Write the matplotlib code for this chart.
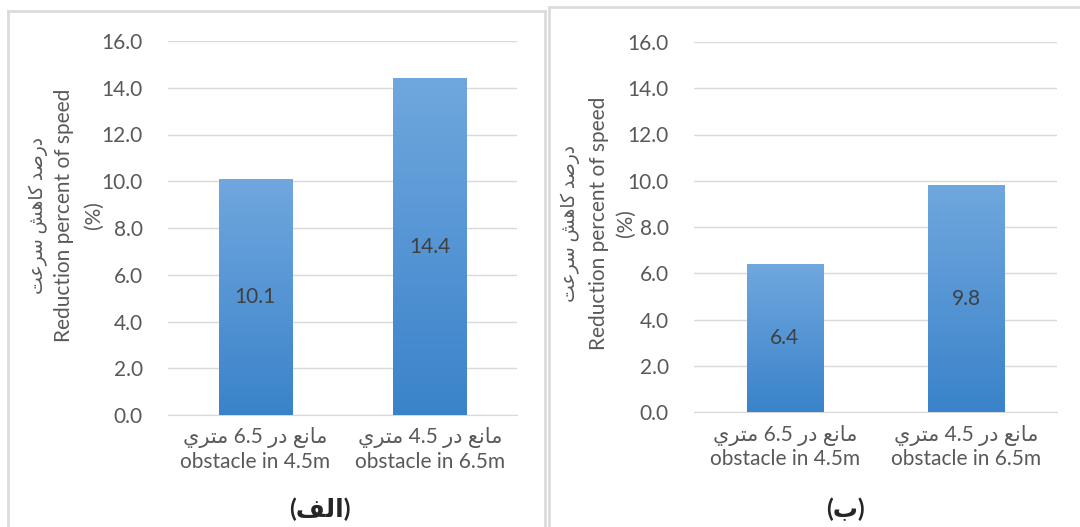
import matplotlib
matplotlib.use('Agg')
import matplotlib.pyplot as plt
import numpy as np
from matplotlib.lines import Line2D

plt.rcParams['font.family'] = ['Lato', 'DejaVu Sans']

# Arabic/Persian strings written in presentation forms, visual (left-to-right) order
fa_ylabel = '\uFE96\uFECB\uFEAE\uFEB3 \uFEB6\uFEEB\uFE8E\uFEDB \uFEAA\uFEBB\uFEAD\uFEA9'
fa_cat_45 = '\uFEF1\uFEAE\uFE98\uFEE3 6.5 \uFEAD\uFEA9 \uFECA\uFEE7\uFE8E\uFEE3'
fa_cat_65 = '\uFEF1\uFEAE\uFE98\uFEE3 4.5 \uFEAD\uFEA9 \uFECA\uFEE7\uFE8E\uFEE3'
caption_a = '(\uFED2\uFEDF\uFE8D)'
caption_b = '(\uFE8F)'

categories = ['obstacle in 4.5m', 'obstacle in 6.5m']
cat_fa = [fa_cat_45, fa_cat_65]
values_a = [10.1, 14.4]
values_b = [6.4, 9.8]
yticks = [0, 2, 4, 6, 8, 10, 12, 14, 16]

W, H = 1080, 527
fig = plt.figure(figsize=(W / 100, H / 100), dpi=100)

TXT = '#595959'
GRID = '#d9d9d9'
TOP_C = np.array([0x70, 0xa7, 0xde]) / 255
BOT_C = np.array([0x3a, 0x83, 0xca]) / 255
grad = np.linspace(0, 1, 256)[:, None, None]
grad_img = BOT_C * (1 - grad) + TOP_C * grad   # row 0 = bottom (origin lower)


def px(x0, y0, x1, y1):
    # pixel box (top-left origin) -> figure fraction rect
    return [x0 / W, 1 - y1 / H, (x1 - x0) / W, (y1 - y0) / H]


def draw_panel(rect, values, cx_caption, cap_text, ylab_x, ylab_y):
    ax = fig.add_axes(rect)
    x = np.arange(len(values))
    bars = ax.bar(x, values, width=0.42, color='none', zorder=3)
    for b in bars:
        x0, y0 = b.get_x(), b.get_y()
        im = ax.imshow(grad_img, origin='lower', aspect='auto', zorder=3,
                       extent=[x0, x0 + b.get_width(), y0, y0 + b.get_height()])
        im.set_clip_path(b)
        ax.text(b.get_x() + b.get_width() / 2, b.get_height() / 2,
                f'{b.get_height():.1f}', ha='center', va='center',
                fontsize=15, color='#404040', zorder=4)
    ax.set_xlim(-0.5, len(values) - 0.5)
    ax.set_ylim(0, 16)
    ax.set_yticks(yticks)
    ax.set_yticklabels([f'{t:.1f}' for t in yticks])
    ax.yaxis.grid(True, color=GRID, lw=1, zorder=0)
    ax.set_axisbelow(True)
    for s in ['top', 'right', 'left']:
        ax.spines[s].set_visible(False)
    ax.spines['bottom'].set_color(GRID)
    ax.tick_params(axis='y', length=0, pad=18, labelsize=15, labelcolor=TXT)
    ax.tick_params(axis='x', length=0, pad=9, labelsize=15, labelcolor=TXT)
    ax.set_xticks(x)
    ax.set_xticklabels([f'{a}\n{e}' for a, e in zip(cat_fa, categories)],
                       linespacing=1.2)

    # rotated y title, three lines
    fig.text(ylab_x[0] / W, 1 - ylab_y / H, fa_ylabel, rotation=90,
             ha='center', va='center', fontsize=13.5, color=TXT)
    fig.text(ylab_x[1] / W, 1 - ylab_y / H, 'Reduction percent of speed',
             rotation=90, ha='center', va='center', fontsize=15, color=TXT)
    fig.text(ylab_x[2] / W, 1 - ylab_y / H, '(%)', rotation=90,
             ha='center', va='center', fontsize=15, color=TXT)

    fig.text(cx_caption / W, 1 - 509 / H, cap_text, ha='center', va='center',
             fontsize=18, fontweight='bold', color='#262626')
    return ax


draw_panel(px(168, 41, 517, 415), values_a, 320, caption_a, (38, 64, 94), 215)
draw_panel(px(694, 42, 1057, 412), values_b, 845, caption_b, (570, 599, 626), 223)

# panel frames
frame = dict(color='#dcdcdc', lw=2, transform=fig.transFigure)
for xs, ys in [([8, 8], [527, 11]), ([8, 545], [11, 11]), ([545, 545], [11, 527]),
               ([549, 549], [527, 7]), ([549, 1080], [7, 7])]:
    fig.add_artist(Line2D([v / W for v in xs], [1 - v / H for v in ys], **frame))

fig.savefig('out.png', dpi=100)
